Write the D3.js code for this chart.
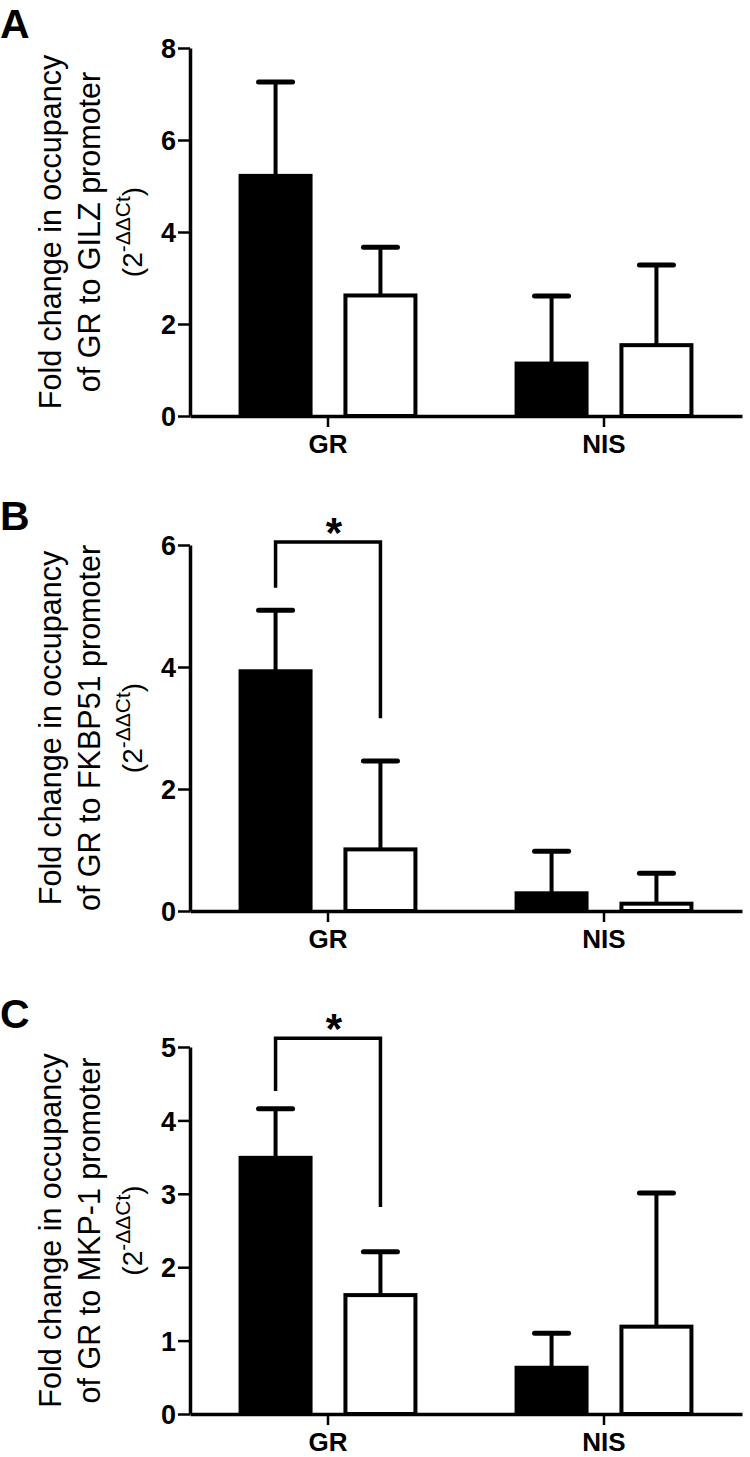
<!DOCTYPE html>
<html>
<head>
<meta charset="utf-8">
<script src="https://cdn.jsdelivr.net/npm/d3@7/dist/d3.min.js"></script>
<style>
  html, body { margin: 0; padding: 0; background: #fff; }
  svg { display: block; }
  text { font-family: "Liberation Sans", Arial, sans-serif; fill: #000; }
</style>
</head>
<body>
<svg id="chart" width="750" height="1457"></svg>
<script>
// ---------- DATA ----------
const categories = ["GR", "NIS"];
const seriesNames = ["filled", "open"];

// Panel A: GILZ promoter
const gilzFilled = [5.22, 1.14];
const gilzFilledErr = [2.04, 1.47];
const gilzOpen = [2.62, 1.54];
const gilzOpenErr = [1.05, 1.74];
const gilzTicks = [0, 2, 4, 6, 8];

// Panel B: FKBP51 promoter
const fkbpFilled = [3.93, 0.29];
const fkbpFilledErr = [1.0, 0.69];
const fkbpOpen = [1.01, 0.12];
const fkbpOpenErr = [1.45, 0.50];
const fkbpTicks = [0, 2, 4, 6];
const fkbpBracket = [6.05, 5.30, 3.16]; // bracket top, left leg end, right leg end

// Panel C: MKP-1 promoter
const mkpFilled = [3.49, 0.63];
const mkpFilledErr = [0.67, 0.47];
const mkpOpen = [1.62, 1.19];
const mkpOpenErr = [0.59, 1.82];
const mkpTicks = [0, 1, 2, 3, 4, 5];
const mkpBracket = [5.12, 4.40, 2.82];

const panelLetters = ["A", "B", "C"];
const genes = ["GILZ", "FKBP51", "MKP-1"];

// ---------- LAYOUT ----------
const svg = d3.select("#chart");
const axisX0 = 190, axisX1 = 742;
const panels = [
  { letter: panelLetters[0], gene: genes[0], filled: gilzFilled, filledErr: gilzFilledErr, open: gilzOpen, openErr: gilzOpenErr, ticks: gilzTicks, bracket: null, yBottom: 416, yTop: 48, letterY: 38 },
  { letter: panelLetters[1], gene: genes[1], filled: fkbpFilled, filledErr: fkbpFilledErr, open: fkbpOpen, openErr: fkbpOpenErr, ticks: fkbpTicks, bracket: fkbpBracket, yBottom: 911, yTop: 545, letterY: 530 },
  { letter: panelLetters[2], gene: genes[2], filled: mkpFilled, filledErr: mkpFilledErr, open: mkpOpen, openErr: mkpOpenErr, ticks: mkpTicks, bracket: mkpBracket, yBottom: 1414, yTop: 1047, letterY: 1028 }
];

const barW = 70;
const capHalf = 17;

panels.forEach(p => {
  const g = svg.append("g");
  const y = d3.scaleLinear().domain([0, d3.max(p.ticks)]).range([p.yBottom, p.yTop]);
  const x = d3.scaleBand().domain(categories).range([axisX0, axisX1]).padding(0);
  const inner = d3.scaleBand().domain(seriesNames).range([-x.bandwidth() * 0.38, x.bandwidth() * 0.38]).padding(0);
  const cx = (cat, s) => x(cat) + x.bandwidth() / 2 + inner(s) + inner.bandwidth() / 2;

  const rows = [];
  categories.forEach((c, i) => {
    rows.push({ cat: c, s: "filled", v: p.filled[i], e: p.filledErr[i] });
    rows.push({ cat: c, s: "open", v: p.open[i], e: p.openErr[i] });
  });

  // error bars (behind bars)
  const eb = g.append("g");
  eb.selectAll("line.stem").data(rows).join("line")
    .attr("x1", d => cx(d.cat, d.s)).attr("x2", d => cx(d.cat, d.s))
    .attr("y1", d => y(d.v)).attr("y2", d => y(d.v + d.e))
    .attr("stroke", "#000").attr("stroke-width", 4);
  eb.selectAll("line.cap").data(rows).join("line")
    .attr("x1", d => cx(d.cat, d.s) - capHalf).attr("x2", d => cx(d.cat, d.s) + capHalf)
    .attr("y1", d => y(d.v + d.e)).attr("y2", d => y(d.v + d.e))
    .attr("stroke", "#000").attr("stroke-width", 5).attr("stroke-linecap", "round");

  // bars
  g.append("g").selectAll("rect").data(rows).join("rect")
    .attr("x", d => cx(d.cat, d.s) - barW / 2)
    .attr("y", d => y(d.v))
    .attr("width", barW)
    .attr("height", d => y(0) - y(d.v))
    .attr("fill", d => d.s === "filled" ? "#000" : "#fff")
    .attr("stroke", "#000").attr("stroke-width", 4);

  // y axis
  const ya = g.append("g").attr("transform", `translate(${axisX0},0)`)
    .call(d3.axisLeft(y).tickValues(p.ticks).tickFormat(d3.format("d")).tickSize(12).tickSizeOuter(0).tickPadding(2));
  ya.select(".domain").attr("stroke-width", 3.5);
  ya.selectAll(".tick line").attr("stroke-width", 2.5);
  ya.selectAll(".tick text").attr("font-family", "Liberation Sans, Arial, sans-serif")
    .attr("font-size", 27).attr("font-weight", "bold").attr("dy", "0.36em");

  // x axis
  const xa = g.append("g").attr("transform", `translate(0,${p.yBottom})`)
    .call(d3.axisBottom(x).tickSize(11).tickSizeOuter(0).tickPadding(8));
  xa.select(".domain").attr("stroke-width", 3.5);
  xa.selectAll(".tick line").attr("stroke-width", 2.5);
  xa.selectAll(".tick text").attr("font-family", "Liberation Sans, Arial, sans-serif")
    .attr("font-size", 26).attr("font-weight", "bold");

  // significance bracket
  if (p.bracket) {
    const xl = cx("GR", "filled"), xr = cx("GR", "open");
    g.append("path")
      .attr("d", `M${xl},${y(p.bracket[1])}V${y(p.bracket[0])}H${xr}V${y(p.bracket[2])}`)
      .attr("fill", "none").attr("stroke", "#000").attr("stroke-width", 3.5);
    g.append("text").attr("x", (xl + xr) / 2 + 6).attr("y", y(p.bracket[0]) + 5)
      .attr("text-anchor", "middle").attr("font-size", 42).attr("font-weight", "bold").text("*");
  }

  // panel letter
  g.append("text").attr("x", 0).attr("y", p.letterY)
    .attr("font-size", 41).attr("font-weight", "bold").text(p.letter);

  // y label (rotated, 3 lines)
  const midY = (p.yBottom + p.yTop) / 2;
  const lbl = (xb, size) => g.append("text")
    .attr("transform", `translate(${xb},${midY}) rotate(-90)`)
    .attr("text-anchor", "middle").attr("font-size", size);
  lbl(61, 30.5).text("Fold change in occupancy");
  lbl(100, 30.5).text(`of GR to ${p.gene} promoter`);
  const l3 = lbl(142, 28);
  l3.append("tspan").text("(2");
  l3.append("tspan").attr("font-size", 21).attr("dy", -12).text("-ΔΔCt");
  l3.append("tspan").attr("dy", 12).text(")");
});
</script>
</body>
</html>
